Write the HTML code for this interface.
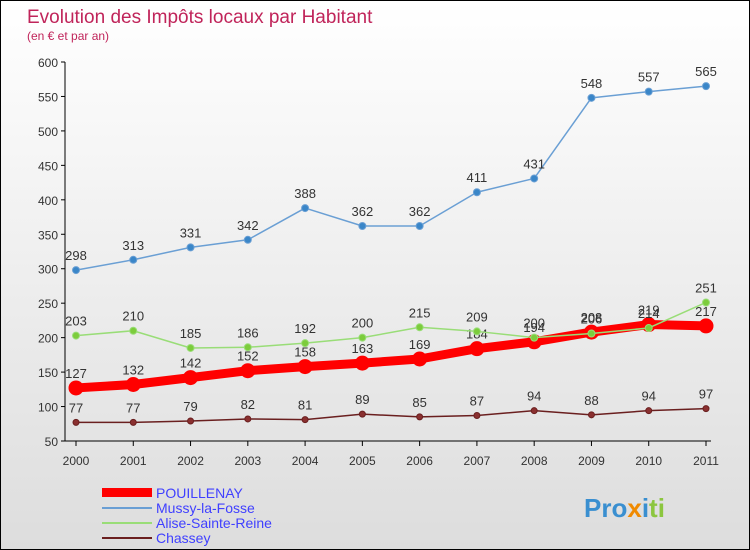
<!DOCTYPE html>
<html><head><meta charset="utf-8"><style>
body{margin:0}
#c{width:750px;height:550px;position:relative;box-sizing:border-box;border:1px solid #000;background:linear-gradient(#fff,#ddd);font-family:"Liberation Sans",sans-serif;overflow:hidden}
</style></head><body>
<div id="c">
<svg width="748" height="548">
<text x="26" y="22" font-size="19" fill="#c0245a">Evolution des Impôts locaux par Habitant</text>
<text x="26" y="39" font-size="12" fill="#c0245a">(en € et par an)</text>
<g id="axes"></g><g id="series"></g>
<g font-size="14" fill="#4040ff">
<rect x="101" y="487" width="50" height="9" fill="#f00"/>
<text x="155" y="497">POUILLENAY</text>
<line x1="101" y1="507" x2="151" y2="507" stroke="#6a9fd4" stroke-width="2"/>
<text x="155" y="512">Mussy-la-Fosse</text>
<line x1="101" y1="522" x2="151" y2="522" stroke="#99dd77" stroke-width="2"/>
<text x="155" y="527">Alise-Sainte-Reine</text>
<line x1="101" y1="537" x2="151" y2="537" stroke="#6a1f1f" stroke-width="2"/>
<text x="155" y="542">Chassey</text>
</g>
<text x="583" y="516" font-size="26" font-weight="bold"><tspan fill="#3a8fd0">Pro</tspan><tspan fill="#f08a00">x</tspan><tspan fill="#3a8fd0">i</tspan><tspan fill="#8cc63f">ti</tspan></text>
</svg></div>
<script>
const years=[2000,2001,2002,2003,2004,2005,2006,2007,2008,2009,2010,2011];
const yTicks=[50,100,150,200,250,300,350,400,450,500,550,600];
const pouillenay=[127,132,142,152,158,163,169,184,194,208,219,217];
const mussy=[298,313,331,342,388,362,362,411,431,548,557,565];
const alise=[203,210,185,186,192,200,215,209,200,206,214,251];
const chassey=[77,77,79,82,81,89,85,87,94,88,94,97];
const NS="http://www.w3.org/2000/svg";
const X=i=>75+i*(630/11), Y=v=>440-(v-50)*(379/550);
function mk(t,a,p){const e=document.createElementNS(NS,t);for(const k in a)e.setAttribute(k,a[k]);p.appendChild(e);return e;}
const ax=document.getElementById('axes');
mk('line',{x1:64,y1:61,x2:64,y2:440,stroke:'#000'},ax);
mk('line',{x1:64,y1:440,x2:710,y2:440,stroke:'#000'},ax);
yTicks.forEach(v=>{
 const t=mk('text',{x:57,y:Y(v)+5,'font-size':12,fill:'#333','text-anchor':'end'},ax);t.textContent=v;
 
 
 mk('line',{x1:60,y1:Y(v),x2:64,y2:Y(v),stroke:'#000'},ax);
});
years.forEach((y,i)=>{
 const t=mk('text',{x:X(i),y:464,'font-size':12,fill:'#333','text-anchor':'middle'},ax);t.textContent=y;
 
 
 mk('line',{x1:X(i),y1:440,x2:X(i),y2:445,stroke:'#000'},ax);
});
const sg=document.getElementById('series');
function series(data,name,color,w,r,fill){
 const g=mk('g',{},sg);
 
 
 mk('polyline',{points:data.map((v,i)=>X(i)+','+Y(v)).join(' '),fill:'none',stroke:color,'stroke-width':w,'stroke-linejoin':'round'},g);
 data.forEach((v,i)=>{
  const c=mk('circle',{cx:X(i),cy:Y(v),r:r,fill:fill,stroke:color,'stroke-width':1},g);
  
  
  const t=mk('text',{x:X(i),y:Y(v)-10,'font-size':13,fill:'#333','text-anchor':'middle'},g);t.textContent=v;
  
  
 });
}
series(chassey,'chassey','#6a1f1f',1.5,3,'#8a3030');
series(mussy,'mussy','#6a9fd4',1.5,3.5,'#3a86c8');
series(pouillenay,'pouillenay','#f00',9,7,'#f00');
series(alise,'alise','#99dd77',1.5,3.5,'#7ccc3c');
</script>
</body></html>
